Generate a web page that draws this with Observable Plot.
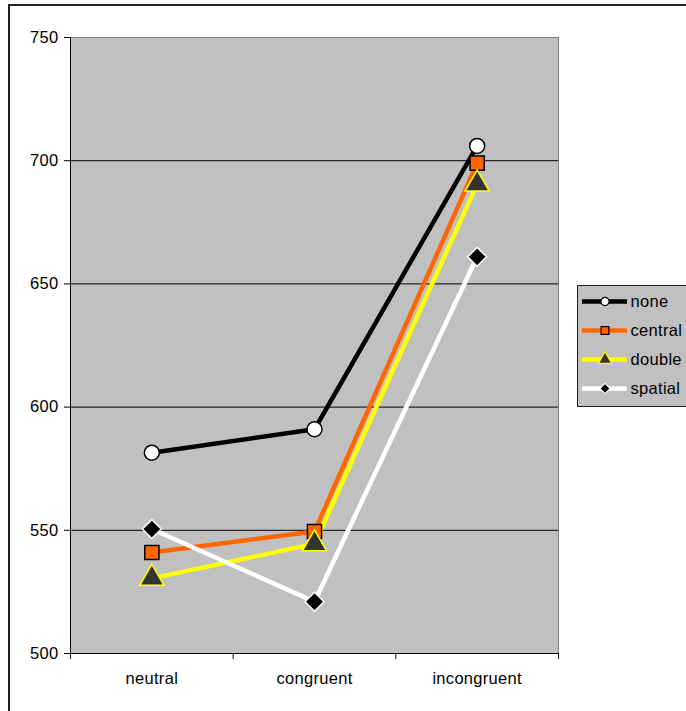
<!DOCTYPE html>
<html>
<head>
<meta charset="utf-8">
<script src="https://cdn.jsdelivr.net/npm/d3@7"></script>
<script src="https://cdn.jsdelivr.net/npm/@observablehq/plot@0.6"></script>
<style>
  html, body { margin: 0; padding: 0; background: #fff; }
  #wrap { position: relative; width: 686px; height: 711px; overflow: hidden; font-family: "Liberation Sans", Arial, sans-serif; }
  #border { position: absolute; left: 8px; top: 4px; width: 720px; height: 760px; border: 2px solid #222; box-sizing: border-box; }
  #chart { position: absolute; left: 0; top: 0; }
  #legend { position: absolute; left: 577px; top: 285px; width: 130px; }
  #wrap svg { max-width: none !important; }
  svg text { letter-spacing: 0.3px; }
</style>
</head>
<body>
<div id="wrap"><div id="border"></div><div id="chart"></div><div id="legend"></div></div>
<script>
const categories = ["neutral", "congruent", "incongruent"];
const seriesNames = ["none", "central", "double", "spatial"];
const none    = [581.5, 591, 706];
const central = [541, 549.5, 699];
const double_ = [530.5, 544.5, 690.5];
const spatial = [550.5, 521, 661];
const yTicks = [500, 550, 600, 650, 700, 750];

const seriesValues = {none, central, double: double_, spatial};
const styles = {
  none:    {line: "#000000", symbol: "circle",   fill: "#ffffff", stroke: "#000000", r: 7.5},
  central: {line: "#ff6600", symbol: "square",   fill: "#ff6600", stroke: "#000000", r: 8},
  double:  {line: "#ffff00", symbol: "triangle", fill: "#333333", stroke: "#ffff00", r: 9},
  spatial: {line: "#ffffff", symbol: "diamond2", fill: "#000000", stroke: "#ffffff", r: 8.5}
};

const rows = [];
for (const s of seriesNames) {
  seriesValues[s].forEach((v, i) => rows.push({series: s, cat: categories[i], xi: i + 0.5, value: v}));
}

const FS = 16.5;
const marks = [
  Plot.frame({fill: "#c0c0c0", stroke: "#808080"}),
  Plot.ruleY(yTicks.filter(t => t > 500 && t < 750), {stroke: "#000", strokeWidth: 1}),
  Plot.ruleX([0], {stroke: "#000", strokeWidth: 1}),
  Plot.ruleY([500], {stroke: "#000", strokeWidth: 1}),
  Plot.axisY({ticks: yTicks, tickSize: 6, tickPadding: 6, fontSize: FS, stroke: "#000", fill: "#000", label: null}),
  Plot.axisX({ticks: [0, 1, 2, 3], tickSize: 6, tickFormat: () => "", stroke: "#000", label: null}),
  Plot.axisX({ticks: categories.map((c, i) => i + 0.5), tickSize: 0, tickPadding: 19, tickFormat: d => categories[Math.round(d - 0.5)], fontSize: FS, fill: "#000", label: null})
];
for (const s of seriesNames) {
  const st = styles[s];
  const data = rows.filter(d => d.series === s);
  marks.push(Plot.line(data, {x: "xi", y: "value", stroke: st.line, strokeWidth: 4.5}));
}
for (const s of seriesNames) {
  const st = styles[s];
  const data = rows.filter(d => d.series === s);
  marks.push(Plot.dot(data, {x: "xi", y: "value", symbol: () => st.symbol, fill: st.fill, stroke: st.stroke, strokeWidth: 1.5, r: st.r}));
}

const chart = Plot.plot({
  width: 686, height: 711,
  marginLeft: 70, marginRight: 128, marginTop: 37, marginBottom: 58,
  style: {fontFamily: "'Liberation Sans', Arial, sans-serif", fontSize: FS + "px", background: "transparent", overflow: "visible"},
  x: {domain: [0, 3], axis: null},
  y: {domain: [500, 750], axis: null},
  symbol: {type: "identity"},
  marks
});
document.getElementById("chart").appendChild(chart);

// Legend
const legRows = seriesNames.map(s => ({series: s}));
const legendMarks = [
  Plot.frame({fill: "#c0c0c0", stroke: "#222", strokeWidth: 1}),
  ...seriesNames.map(s => Plot.ruleY([s], {y: d => d, x1: 5, x2: 50, stroke: styles[s].line, strokeWidth: 4.5})),
  ...seriesNames.map(s => Plot.dot([s], {y: d => d, x: 27.5, symbol: () => styles[s].symbol, fill: styles[s].fill, stroke: styles[s].stroke, strokeWidth: 1.2, r: styles[s].r * 0.55})),
  Plot.text(legRows, {y: "series", x: 53, text: "series", textAnchor: "start", fontSize: FS, fill: "#000"})
];
const legend = Plot.plot({
  width: 120, height: 121,
  margin: 0,
  x: {domain: [0, 120], range: [0, 120], axis: null},
  y: {type: "point", domain: seriesNames, range: [15, 104], padding: 0, axis: null},
  symbol: {type: "identity"},
  style: {fontFamily: "'Liberation Sans', Arial, sans-serif", fontSize: FS + "px", background: "transparent", overflow: "visible"},
  marks: legendMarks
});
document.getElementById("legend").appendChild(legend);
</script>
</body>
</html>
